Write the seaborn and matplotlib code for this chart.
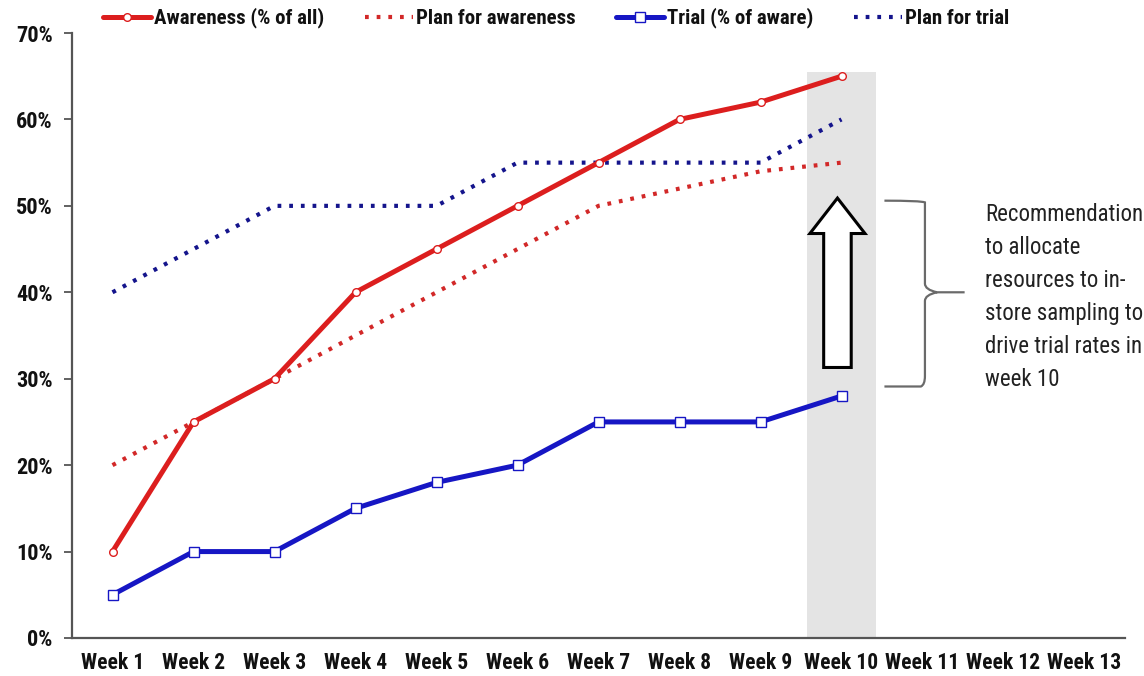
import numpy as np
import pandas as pd
import matplotlib
matplotlib.use("Agg")
import matplotlib.pyplot as plt
from matplotlib.patches import Polygon, PathPatch
from matplotlib.path import Path
from matplotlib.lines import Line2D
from matplotlib.font_manager import FontProperties
import seaborn as sns

weeks = ["Week 1", "Week 2", "Week 3", "Week 4", "Week 5", "Week 6", "Week 7",
         "Week 8", "Week 9", "Week 10", "Week 11", "Week 12", "Week 13"]
awareness = [10, 25, 30, 40, 45, 50, 55, 60, 62, 65]
plan_awareness = [20, 25, 30, 35, 40, 45, 50, 52, 54, 55]
trial = [5, 10, 10, 15, 18, 20, 25, 25, 25, 28]
plan_trial = [40, 45, 50, 50, 50, 55, 55, 55, 55, 60]
yticks = [0, 10, 20, 30, 40, 50, 60, 70]
note = "Recommendation\nto allocate\nresources to in-\nstore sampling to\ndrive trial rates in\nweek 10"

sns.set_theme(style="white")
FONT = ["Roboto Condensed", "Liberation Sans", "DejaVu Sans"]
plt.rcParams["font.family"] = FONT

fig = plt.figure(figsize=(11.44, 6.76), dpi=100)
ax = fig.add_axes([72 / 1144, 1 - 638 / 676, (1125 - 72) / 1144, (638 - 33) / 676])

pos = np.arange(len(awareness))
df = pd.DataFrame({"x": pos, "awareness": awareness, "plan_awareness": plan_awareness,
                   "trial": trial, "plan_trial": plan_trial})

RED = "#dc1e1e"
BLUE = "#1616c4"
NAVY = "#14148c"
REDDOT = "#d22828"

ax.axvspan(8.57, 9.42, ymin=0, ymax=65.5 / 70, color="#e4e4e4", zorder=0, lw=0)

sns.lineplot(data=df, x="x", y="plan_trial", ax=ax, color=NAVY, lw=3.0,
             linestyle=(0, (0.9, 1.9)), zorder=2)
sns.lineplot(data=df, x="x", y="plan_awareness", ax=ax, color=REDDOT, lw=3.0,
             linestyle=(0, (0.9, 1.9)), zorder=2)
sns.lineplot(data=df, x="x", y="awareness", ax=ax, color=RED, lw=3.6, marker="o",
             markersize=5.5, markerfacecolor="white", markeredgecolor=RED,
             markeredgewidth=1.0, zorder=3)
sns.lineplot(data=df, x="x", y="trial", ax=ax, color=BLUE, lw=3.6, marker="s",
             markersize=6.5, markerfacecolor="white", markeredgecolor=BLUE,
             markeredgewidth=1.0, zorder=3)

ax.set_xlim(-0.5, len(weeks) - 0.5)
ax.set_ylim(0, 70)
ax.set_xticks(np.arange(len(weeks)))
ax.set_xticklabels(weeks, fontsize=15.5, fontweight="bold", color="#111111")
ax.set_xticks(np.arange(len(weeks) + 1) - 0.5, minor=True)
ax.tick_params(axis="x", which="major", length=0, pad=10)
ax.tick_params(axis="x", which="minor", length=6, width=1.3, color="#555555", direction="inout")
ax.set_yticks(yticks)
ax.set_yticklabels([f"{v}%" for v in yticks], fontsize=16, fontweight="bold", color="#111111")
ax.tick_params(axis="y", length=6, width=1.3, color="#555555", direction="out", pad=8, left=True)
ax.set_xlabel("")
ax.set_ylabel("")
for s in ["top", "right"]:
    ax.spines[s].set_visible(False)
for s in ["left", "bottom"]:
    ax.spines[s].set_color("#555555")
    ax.spines[s].set_linewidth(1.6)
ax.grid(False)

cx = 8.95
bw, hw = 0.17, 0.34
arrow = Polygon([(cx - bw, 31.3), (cx + bw, 31.3), (cx + bw, 46.8), (cx + hw, 46.8),
                 (cx, 50.9), (cx - hw, 46.8), (cx - bw, 46.8)], closed=True,
                facecolor="white", edgecolor="black", lw=2.2, zorder=4, joinstyle="miter")
ax.add_patch(arrow)

xl, xv, xt = 9.53, 10.03, 10.52
yt, ym, yb = 50.6, 40.0, 29.1
verts = [(xl, yt), (xv - 0.05, yt), (xv, yt - 0.2), (xv, yt - 1.2),
         (xv, ym + 1.0), (xv, ym + 0.3), (xv + 0.15, ym), (xt, ym),
         (xv + 0.15, ym), (xv, ym - 0.3), (xv, ym - 1.0),
         (xv, yb + 1.2), (xv, yb + 0.2), (xv - 0.05, yb), (xl, yb)]
codes = [Path.MOVETO, Path.CURVE3, Path.CURVE3, Path.LINETO,
         Path.LINETO, Path.CURVE3, Path.CURVE3, Path.LINETO,
         Path.MOVETO, Path.CURVE3, Path.CURVE3,
         Path.LINETO, Path.CURVE3, Path.CURVE3, Path.LINETO]
ax.add_patch(PathPatch(Path(verts, codes), facecolor="none", edgecolor="#6a6a6a",
                       lw=1.6, clip_on=False, zorder=4))

fig.text(985 / 1144, 1 - 203 / 676, note, fontsize=16.5, va="top", ha="left",
         color="#222222", linespacing=1.55)

handles = [
    Line2D([], [], color=RED, lw=3.6, marker="o", markersize=5.5, markerfacecolor="white",
           markeredgecolor=RED, markeredgewidth=1.0),
    Line2D([], [], color=REDDOT, lw=3.0, linestyle=(0, (0.9, 1.9))),
    Line2D([], [], color=BLUE, lw=3.6, marker="s", markersize=6.5, markerfacecolor="white",
           markeredgecolor=BLUE, markeredgewidth=1.0),
    Line2D([], [], color=NAVY, lw=3.0, linestyle=(0, (0.9, 1.9))),
]
labels = ["Awareness (% of all)", "Plan for awareness", "Trial (% of aware)", "Plan for trial"]
leg = fig.legend(handles, labels, loc="center left", bbox_to_anchor=(103 / 1144, 1 - 18 / 676),
                 ncol=4, frameon=False, handlelength=2.3, handletextpad=0.15, columnspacing=1.95,
                 prop=FontProperties(family=FONT, weight="bold", size=15),
                 borderaxespad=0, borderpad=0)
for t in leg.get_texts():
    t.set_color("#111111")

fig.savefig("out.png", dpi=100)
